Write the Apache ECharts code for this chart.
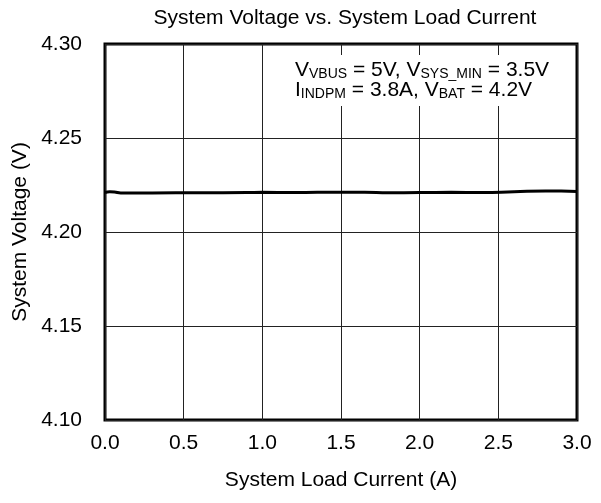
<!DOCTYPE html>
<html><head><meta charset="utf-8">
<script src="https://cdn.jsdelivr.net/npm/echarts@6/dist/echarts.min.js"></script>
<style>html,body{margin:0;padding:0;background:#fff}#c{width:601px;height:503px}</style>
</head><body><div id="c"></div>
<script>
const xValues = [0.00,0.03,0.06,0.10,0.30,0.60,0.90,1.00,1.20,1.50,1.65,1.80,2.00,2.20,2.40,2.60,2.80,2.90,3.00];
const yValues = [4.2210,4.2214,4.2213,4.2208,4.2208,4.2209,4.2210,4.2211,4.2210,4.2212,4.2212,4.2209,4.2210,4.2211,4.2210,4.2214,4.2218,4.2218,4.2215];
const xTicks = [0,0.5,1,1.5,2,2.5,3];
const yTicks = [4.10,4.15,4.20,4.25,4.30];

const F = 'Liberation Sans, Arial, sans-serif';
const FS = 21;
const chart = echarts.init(document.getElementById('c'), null, {renderer:'canvas'});
chart.setOption({
  animation:false,
  title:{text:'System Voltage vs. System Load Current', left:340, top:3, textAlign:'center',
    textStyle:{fontFamily:F, fontSize:FS, fontWeight:'normal', color:'#000'}},
  grid:{left:105, right:24, top:44, bottom:83, show:true, borderColor:'#000', borderWidth:3, backgroundColor:'transparent'},
  xAxis:{type:'value', min:xTicks[0], max:xTicks[xTicks.length-1], interval:0.5,
    name:'System Load Current (A)', nameLocation:'middle', nameGap:50,
    nameTextStyle:{fontFamily:F, fontSize:FS, color:'#000'},
    axisLine:{show:false}, axisTick:{show:false},
    axisLabel:{fontFamily:F, fontSize:FS, color:'#000', margin:13, formatter:v=>v.toFixed(1)},
    splitLine:{show:true, lineStyle:{color:'#222', width:1}}},
  yAxis:{type:'value', min:yTicks[0], max:yTicks[yTicks.length-1], interval:0.05,
    name:'System Voltage (V)', nameLocation:'middle', nameGap:74,
    nameTextStyle:{fontFamily:F, fontSize:FS, color:'#000'},
    axisLine:{show:false}, axisTick:{show:false},
    axisLabel:{fontFamily:F, fontSize:FS, color:'#000', margin:23, formatter:v=>v.toFixed(2)},
    splitLine:{show:true, lineStyle:{color:'#222', width:1}}},
  series:[{type:'line', data:xValues.map((x,i)=>[x,yValues[i]]), smooth:true, symbol:'none',
    lineStyle:{color:'#000', width:3}}],
  graphic:[{type:'text', left:289, top:55, z:100,
    style:{
      rich:{
        m:{fontFamily:F, fontSize:FS, color:'#000', lineHeight:20},
        s:{fontFamily:F, fontSize:14, color:'#000', lineHeight:20, padding:[8,0,0,0]}
      },
      text:'{m|V}{s|VBUS}{m| = 5V, V}{s|SYS_MIN}{m| = 3.5V}\n{m|I}{s|INDPM}{m| = 3.8A, V}{s|BAT}{m| = 4.2V}',
      backgroundColor:'#fff', padding:[5,8,6,6]
    }}]
});
</script></body></html>
